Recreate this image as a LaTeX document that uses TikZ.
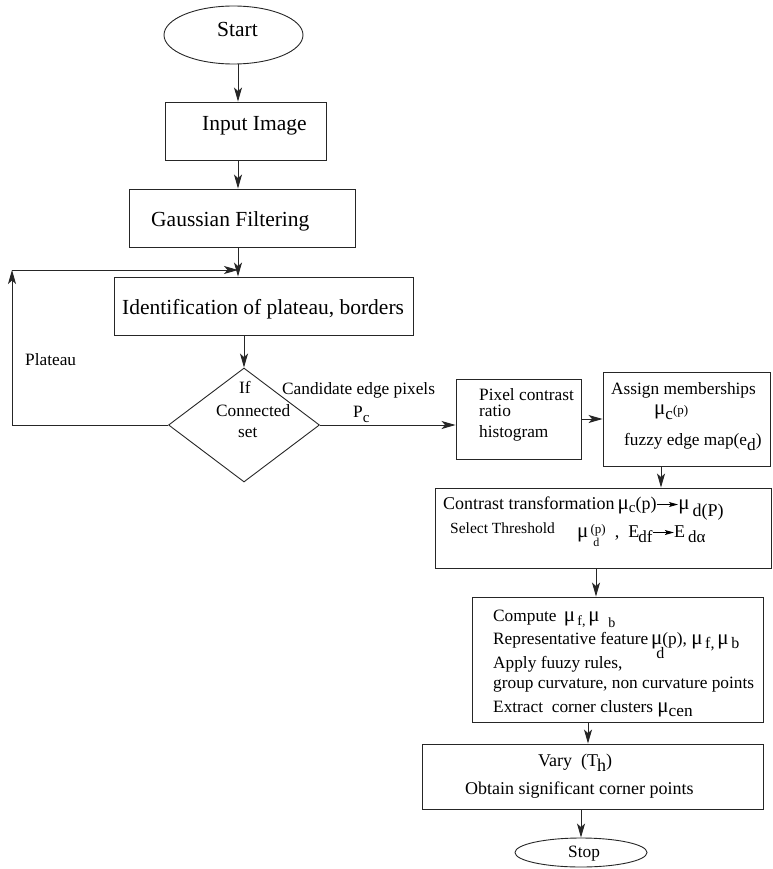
\documentclass[tikz,border=0pt]{standalone}
\usepackage{fontspec}
\setmainfont{Liberation Serif}
\usetikzlibrary{arrows.meta,shapes.geometric}
\newcommand{\bigf}{\fontsize{21.5}{24}\selectfont}
\newcommand{\midf}{\fontsize{17.3}{20}\selectfont}
\newcommand{\fs}[1]{\fontsize{#1}{#1}\selectfont}
\newcommand{\inarr}{\tikz[baseline=-4.5pt]\draw[line width=0.8pt,-{Stealth[length=9pt,width=5pt,inset=2pt]}] (0pt,0pt)--(21pt,0pt);}
\begin{document}
\begin{tikzpicture}[x=1pt,y=-1pt,
  box/.style={draw=black!85, rectangle, inner sep=0pt, line width=0.9pt},
  oval/.style={draw=black!85, ellipse, inner sep=0pt, line width=0.9pt},
  txt/.style={anchor=base west, inner sep=0pt, font=\midf},
  btxt/.style={anchor=base west, inner sep=0pt, font=\bigf},
  arr/.style={draw=black!85, line width=0.9pt, -{Stealth[length=14pt,width=8pt,inset=3.5pt]}},
  ln/.style={draw=black!85, line width=0.9pt}]
\useasboundingbox (0,0) rectangle (772,869);

% shapes
\node[oval, minimum width=139, minimum height=58] (start) at (233.5,35) {};
\node[box, minimum width=161, minimum height=58] (inp) at (245.5,131) {};
\node[box, minimum width=226, minimum height=58] (gau) at (242,218) {};
\node[box, minimum width=299, minimum height=58] (idn) at (263.5,306) {};
\node[draw=black!85, line width=0.9pt, diamond, inner sep=0pt, minimum width=151, minimum height=114] (dia) at (244,425) {};
\node[box, minimum width=125, minimum height=80] (pix) at (518.5,419) {};
\node[box, minimum width=167, minimum height=94] (asg) at (686.5,419) {};
\node[box, minimum width=336, minimum height=80] (cst) at (603,528) {};
\node[box, minimum width=291, minimum height=125] (cmp) at (617.5,659.5) {};
\node[box, minimum width=341, minimum height=65] (vary) at (592.5,776.5) {};
\node[oval, minimum width=132, minimum height=29] (stop) at (581,852.5) {};

% texts
\node[btxt] (tstart) at (217,37) {Start};
\node[btxt] (tinp) at (202,131) {Input Image};
\node[btxt] (tgau) at (151,226) {Gaussian Filtering};
\node[btxt] (tidn) at (122,314) {Identification of plateau, borders};
\node[txt] (tif) at (239,393) {If};
\node[txt] (tconn) at (216,416) {Connected};
\node[txt] (tset) at (238,437) {set};
\node[txt] (tplat) at (25,365) {Plateau};
\node[txt] (tcand) at (282,394) {Candidate edge pixels};
\node[txt] (tpc) at (353,417) {P\raisebox{-5pt}{\fs{15}c}};
\node[txt] (tpix1) at (479,400) {Pixel contrast};
\node[txt] (tpix2) at (479,416) {ratio};
\node[txt] (tpix3) at (479,437) {histogram};
\node[txt] (tasg1) at (611,394) {Assign memberships};
\node[txt] (tasg2) at (654,414) {{\fs{21}μ}\raisebox{-5pt}{\fs{17}c}{\fs{13}(p)}};
\node[txt] (tasg3) at (624,445) {fuzzy edge map(e\raisebox{-5pt}{d})};
\node[txt, font=\fs{18}] (tcst1) at (443,509) {Contrast transformation\,{\fs{21}μ}\raisebox{-3pt}{\fs{15}c}(p)\inarr{\fs{21}μ}\,\raisebox{-7pt}{d(P)}};
\node[txt, font=\fs{15.5}] (tcst2) at (450,533) {Select Threshold};
\node[txt, font=\fs{18}] (tcst3) at (577,537) {{\fs{21}μ}\rlap{\raisebox{-9pt}{\fs{12}\ \,d}}\raisebox{4pt}{\fs{13}\,(p)}\ \ ,\ \ E\kern-1pt\raisebox{-5pt}{\fs{17}df}\inarr E\,\raisebox{-5pt}{\fs{17}dα}};
\node[txt] (tc1) at (493,621) {Compute \,{\fs{21}μ}\raisebox{-4pt}{\fs{14}\,f,}\,{\fs{21}μ}\ \ \raisebox{-6pt}{\fs{14}b}};
\node[txt] (tc2) at (493,644) {Representative feature\,{\fs{21}μ}\rlap{\raisebox{-14pt}{\fs{16}\kern-6pt d}}(p), {\fs{21}μ}\raisebox{-4pt}{\fs{16}\,f,}\,{\fs{21}μ}\raisebox{-4pt}{\fs{16}\,b}};
\node[txt] (tc3) at (493,668) {Apply fuuzy rules,};
\node[txt] (tc4) at (493,688) {group curvature, non curvature points};
\node[txt] (tc5) at (493,712) {Extract \ corner clusters {\fs{21}μ}\raisebox{-4pt}{cen}};
\node[txt, font=\fs{18}] (tv1) at (538,766) {Vary \ (T\kern-1pt\raisebox{-5pt}{h})};
\node[txt, font=\fs{18}] (tv2) at (465,794) {Obtain significant corner points};
\node[txt] (tstop) at (568,857) {Stop};

% helper coordinates
\coordinate (c238) at (238,0);
\coordinate (fb) at (12,270);
\coordinate (c661) at (661,0);
\coordinate (c596) at (596,0);
\coordinate (c588) at (588,0);
\coordinate (c581) at (581,0);

% connectors
\draw[arr] (start.south -| c238) -- (inp.north -| c238);
\draw[arr] (inp.south -| c238) -- (gau.north -| c238);
\draw[arr] (gau.south -| c238) -- (idn.north -| c238);
\draw[arr] (idn.south -| dia.north) -- (dia.north);
\draw[arr] (dia.west) -| (fb);
\draw[arr] (fb) -- (fb -| c238);
\draw[arr] (dia.east) -- (dia.east -| pix.west);
\draw[arr] (pix.east) -- (pix.east -| asg.west);
\draw[arr] (asg.south -| c661) -- (cst.north -| c661);
\draw[arr] (cst.south -| c596) -- (cmp.north -| c596);
\draw[arr] (cmp.south -| c588) -- (vary.north -| c588);
\draw[arr] (vary.south -| c581) -- (stop.north);
\end{tikzpicture}
\end{document}
